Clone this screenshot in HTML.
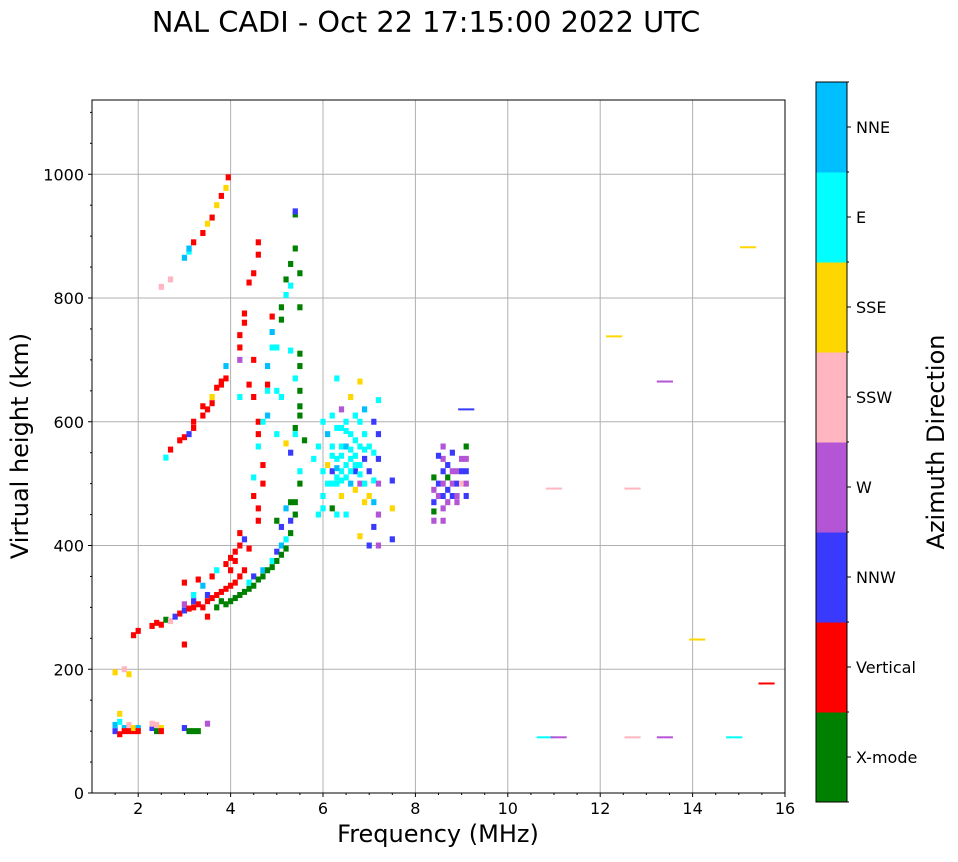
<!DOCTYPE html>
<html><head><meta charset="utf-8">
<style>
body{margin:0;background:#fff;font-family:"Liberation Sans","DejaVu Sans",sans-serif;}
svg text{font-family:"DejaVu Sans","Liberation Sans",sans-serif;}
</style></head>
<body>
<svg id="chart" width="958" height="857" xmlns="http://www.w3.org/2000/svg">
<text x="426" y="32" text-anchor="middle" font-size="28.8">NAL CADI - Oct 22 17:15:00 2022 UTC</text>
<g id="grid"></g>
<g id="marks"></g>
<rect x="92" y="100" width="693" height="693" fill="none" stroke="#000" stroke-width="1"/>
<g id="axes"></g>
<text x="438" y="842" text-anchor="middle" font-size="24">Frequency (MHz)</text>
<text transform="translate(28,446) rotate(-90)" text-anchor="middle" font-size="24">Virtual height (km)</text>
<g id="cbar"></g>
<text transform="translate(944,442) rotate(-90)" text-anchor="middle" font-size="24">Azimuth Direction</text>
</svg>
<script>
const dirNames=["X-mode","Vertical","NNW","W","SSW","SSE","E","NNE"];
const dirColors=["#008000","#ff0000","#3a3aff","#b455d6","#ffb6c1","#ffd700","#00ffff","#00bfff"];
const xTicks=[2,4,6,8,10,12,14,16];
const yTicks=[0,200,400,600,800,1000];
const echoes=[
[1.5,100,2],[1.5,110,7],[1.6,95,1],[1.6,115,6],[1.7,105,7],[1.7,100,1],[1.8,110,4],[1.8,100,1],[1.9,100,1],[1.9,105,5],[2.0,105,7],[2.0,100,1],[2.3,105,2],[2.3,112,4],[2.4,100,0],[2.4,110,4],[2.5,105,5],[2.5,100,1],[3.0,105,2],[3.1,100,0],[3.2,100,0],[3.3,100,0],[3.5,112,3],[1.6,128,5],[1.5,195,5],[1.8,192,5],[1.7,200,4],
[1.9,255,1],[2.0,262,1],[2.3,270,1],[2.4,275,1],[2.5,272,1],[2.6,280,0],[2.7,278,4],[2.8,285,2],[2.9,290,1],[3.0,295,2],[3.0,305,3],[3.1,298,1],[3.2,300,1],[3.2,310,2],[3.3,305,1],[3.4,300,1],[3.5,310,1],[3.5,320,2],[3.6,315,1],[3.7,320,1],[3.7,300,0],[3.8,310,0],[3.8,325,1],[3.9,330,1],[3.9,305,0],[4.0,310,0],[4.0,335,1],[4.1,340,1],[4.1,315,0],[4.2,320,0],[4.2,350,1],[4.3,325,0],[4.3,360,1],[4.4,330,0],[4.4,340,6],[4.5,335,0],[4.5,350,2],[4.6,345,0],[4.7,350,0],[4.7,360,7],[4.8,360,0],[4.9,365,0],[4.9,375,6],[5.0,375,0],[5.0,390,2],[5.1,385,0],[5.1,400,7],[5.2,395,0],[5.2,410,6],[5.3,420,0],[5.3,440,2],[5.4,450,0],[5.4,470,0],[3.0,340,1],[3.3,345,1],[3.6,350,1],[3.9,370,1],[4.0,380,1],[4.1,390,1],[4.2,420,1],[4.3,410,2],[4.4,395,1],[3.0,240,1],[3.5,285,1],[3.2,320,6],[3.4,335,7],[3.7,360,6],[4.0,360,1],[4.1,375,1],[4.2,400,1],
[2.7,555,1],[2.6,542,6],[2.9,570,1],[3.0,575,1],[3.1,580,2],[3.2,590,1],[3.2,600,1],[3.4,610,1],[3.4,625,1],[3.5,620,1],[3.6,630,1],[3.6,640,5],[3.7,655,1],[3.8,665,1],[3.8,660,1],[3.9,670,1],[3.9,690,7],[3.0,865,7],[3.1,875,6],[3.2,890,1],[3.4,905,1],[3.5,920,5],[3.6,930,1],[3.7,950,5],[3.8,965,1],[3.9,978,5],[3.95,995,1],[2.5,818,4],[2.7,830,4],[3.1,880,7],
[4.2,720,1],[4.2,740,1],[4.3,760,1],[4.3,775,1],[4.2,700,3],[4.4,660,1],[4.5,640,1],[4.5,700,1],[4.5,840,1],[4.6,890,1],[4.4,825,1],[4.6,870,1],[4.6,600,1],[4.6,580,1],[4.6,560,6],[4.7,530,1],[4.7,500,1],[4.5,480,1],[4.6,460,1],[4.6,440,1],[4.5,510,6],[4.8,610,7],[4.8,650,6],[4.8,690,7],[4.9,720,6],[4.9,745,7],[4.9,770,1],[4.7,600,6],[4.8,660,1],[4.2,640,6],
[5.1,785,0],[5.1,765,0],[5.2,805,6],[5.2,830,0],[5.3,855,0],[5.3,820,6],[5.4,880,0],[5.4,935,0],[5.4,940,2],[5.5,840,0],[5.5,785,0],[5.5,710,0],[5.5,690,0],[5.5,650,0],[5.5,625,0],[5.5,610,0],[5.4,590,0],[5.4,670,6],[5.3,715,6],[5.1,640,6],[5.0,720,6],[5.0,650,6],[5.0,580,6],[5.3,550,2],[5.4,580,6],[5.5,500,0],[5.5,520,6],[5.2,565,5],[5.6,570,0],[5.3,470,0],[5.2,460,7],[5.1,430,2],[5.0,440,0],
[5.8,540,6],[5.9,560,6],[5.9,450,6],[6.0,600,6],[6.0,520,6],[6.0,480,6],[6.1,580,7],[6.1,500,6],[6.1,530,5],[6.2,610,6],[6.2,560,6],[6.2,520,2],[6.2,460,0],[6.3,670,6],[6.3,540,6],[6.3,500,6],[6.3,450,6],[6.4,620,3],[6.4,590,6],[6.4,560,6],[6.4,520,6],[6.4,480,5],[6.5,600,6],[6.5,560,7],[6.5,530,6],[6.5,450,6],[6.6,640,5],[6.6,580,6],[6.6,540,6],[6.6,500,7],[6.7,610,6],[6.7,570,6],[6.7,520,2],[6.7,490,5],[6.8,665,5],[6.8,600,6],[6.8,560,6],[6.8,530,6],[6.8,500,3],[6.8,415,5],[6.9,620,7],[6.9,580,6],[6.9,540,2],[6.9,500,6],[6.9,470,5],[7.0,560,6],[7.0,520,2],[7.0,480,5],[7.0,400,2],[7.1,600,2],[7.1,550,6],[7.1,505,6],[7.1,470,7],[7.1,430,2],[7.2,635,6],[7.2,580,2],[7.2,540,2],[7.2,500,3],[7.2,450,3],[7.2,400,3],[7.5,505,2],[7.5,460,5],[7.5,410,2],[6.3,590,6],[6.0,460,6],
[6.3,510,6],[6.4,545,6],[6.5,510,6],[6.6,555,6],[6.7,545,6],[6.2,500,6],[6.3,525,7],[6.5,585,6],[6.4,505,6],[6.6,520,6],[6.2,545,6],[6.7,530,6],[6.8,515,6],[6.9,555,6],
[8.4,510,0],[8.4,490,3],[8.4,470,2],[8.4,455,0],[8.4,440,3],[8.5,500,2],[8.5,480,3],[8.6,560,3],[8.6,540,3],[8.6,520,2],[8.6,500,3],[8.6,480,2],[8.6,460,3],[8.6,440,3],[8.7,530,2],[8.7,510,0],[8.7,490,2],[8.7,470,3],[8.8,550,2],[8.8,520,3],[8.8,500,3],[8.8,480,2],[8.9,520,3],[8.9,500,2],[8.9,480,3],[9.0,540,3],[9.0,520,2],[9.0,500,4],[9.1,560,0],[9.1,540,3],[9.1,520,2],[9.1,500,3],[9.1,480,2],[8.5,545,2],[8.9,470,3]
];
const lineFreqs=[9.1,11.0,12.7,12.3,13.4,15.2,14.1,15.6,10.8,11.1,12.7,13.4,14.9];
const lineHeights=[620,492,492,738,665,882,248,177,90,90,90,90,90];
const lineDirs=[2,4,4,5,3,5,5,1,6,3,4,3,6];

const NS="http://www.w3.org/2000/svg";
const X0=92,X1=785,Y0=793,Y1=100,FMIN=1,FMAX=16,HMIN=0,HMAX=1120;
const xs=f=>X0+(f-FMIN)/(FMAX-FMIN)*(X1-X0);
const ys=h=>Y0-(h-HMIN)/(HMAX-HMIN)*(Y0-Y1);
function mk(tag,attrs,parent){const e=document.createElementNS(NS,tag);for(const k in attrs)e.setAttribute(k,attrs[k]);parent.appendChild(e);return e;}
const grid=document.getElementById('grid'),axes=document.getElementById('axes'),marks=document.getElementById('marks'),cbar=document.getElementById('cbar');
xTicks.forEach(t=>{const x=xs(t);
 const g=mk('line',{x1:x,x2:x,y1:Y1,y2:Y0,stroke:'#b0b0b0','stroke-width':1},grid);
 
 mk('line',{x1:x,x2:x,y1:Y0,y2:Y0+4,stroke:'#000'},axes);
 const tx=mk('text',{x:x,y:Y0+21,'text-anchor':'middle','font-size':16},axes);tx.textContent=t;
 });
yTicks.forEach(t=>{const y=ys(t);
 const g=mk('line',{x1:X0,x2:X1,y1:y,y2:y,stroke:'#b0b0b0','stroke-width':1},grid);
 
 mk('line',{x1:X0-4,x2:X0,y1:y,y2:y,stroke:'#000'},axes);
 const tx=mk('text',{x:X0-8,y:y+6,'text-anchor':'end','font-size':16},axes);tx.textContent=t;
 });
for(let h=50;h<HMAX;h+=50){if(h%200)mk('line',{x1:X0-2,x2:X0,y1:ys(h),y2:ys(h),stroke:'#000'},axes);}
for(let f=1.5;f<FMAX;f+=0.5){if(f%2)mk('line',{x1:xs(f),x2:xs(f),y1:Y0,y2:Y0+2,stroke:'#000'},axes);}
const cw=xs(1.1)-xs(1)+0.6;
echoes.forEach(e=>{const r=mk('rect',{x:xs(e[0])-cw/2,y:ys(e[1])-3,width:cw,height:6,fill:dirColors[e[2]]},marks);
 });
lineFreqs.forEach((f,i)=>{const w=xs(f+0.35)-xs(f);
 const r=mk('rect',{x:xs(f)-w/2,y:ys(lineHeights[i])-1,width:w,height:2,fill:dirColors[lineDirs[i]]},marks);
 });
const CB_X=816,CB_W=31,CB_T=82,CB_B=802,bh=(CB_B-CB_T)/dirNames.length;
dirNames.forEach((n,i)=>{const y=CB_B-(i+1)*bh;
 const r=mk('rect',{x:CB_X,y:y,width:CB_W,height:bh+0.5,fill:dirColors[i]},cbar);
 
 mk('line',{x1:CB_X+CB_W,x2:CB_X+CB_W+4,y1:y+bh/2,y2:y+bh/2,stroke:'#000'},cbar);
 const t=mk('text',{x:CB_X+CB_W+9,y:y+bh/2+6,'font-size':16},cbar);t.textContent=n;
 });
for(let i=0;i<=dirNames.length;i++){const y=CB_T+i*bh;mk('line',{x1:CB_X+CB_W,x2:CB_X+CB_W+2,y1:y,y2:y,stroke:'#000'},cbar);}
mk('rect',{x:CB_X,y:CB_T,width:CB_W,height:CB_B-CB_T,fill:'none',stroke:'#000'},cbar);
</script>
</body></html>
